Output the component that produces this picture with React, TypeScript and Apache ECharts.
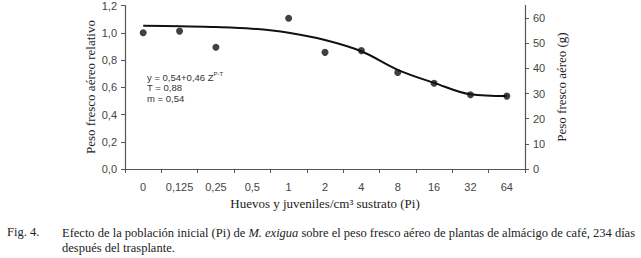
import React, { useEffect, useRef } from "react";
import * as echarts from "echarts";

const categories = ["0", "0,125", "0,25", "0,5", "1", "2", "4", "8", "16", "32", "64"];
const observed: (number | null)[] = [1.0, 1.012, 0.893, null, 1.107, 0.856, 0.869, 0.708, 0.63, 0.545, 0.535];
const fitted = [1.051, 1.047, 1.042, 1.03, 1.0, 0.947, 0.864, 0.728, 0.632, 0.548, 0.535];
const leftTicks = [0, 0.2, 0.4, 0.6, 0.8, 1.0, 1.2];
const rightTicks = [0, 10, 20, 30, 40, 50, 60];
const equationLines = ["y = 0,54+0,46 Z{s|P-T}", "T = 0,88", "m = 0,54"];
const xTitle = "Huevos y juveniles/cm³ sustrato (Pi)";
const leftTitle = "Peso fresco aéreo relativo";
const rightTitle = "Peso fresco aéreo (g)";

const SANS = "Liberation Sans";
const SERIF = "Liberation Serif";
const AXIS = "#555";
const LABEL = "#444";

export default function App() {
  const ref = useRef<HTMLDivElement>(null);
  useEffect(() => {
    document.body.style.margin = "0";
    const chart = echarts.init(ref.current!, null, { renderer: "svg" });
    const fmt = (v: number) => v.toFixed(1).replace(".", ",");
    const titleStyle = { font: "13px 'Liberation Serif', serif", fill: "#222", align: "center", verticalAlign: "middle" };
    chart.setOption({
      animation: false,
      backgroundColor: "#fff",
      grid: { left: 125, right: 116, top: 5, bottom: 89, containLabel: false },
      xAxis: {
        type: "category",
        data: categories,
        boundaryGap: true,
        axisLine: { lineStyle: { color: AXIS, width: 1.2 } },
        axisTick: { show: true, length: 4, lineStyle: { color: AXIS } },
        axisLabel: { fontFamily: SANS, fontSize: 11, color: LABEL, margin: 12 },
      },
      yAxis: [
        {
          type: "value",
          min: 0,
          max: 1.2,
          interval: 0.2,
          position: "left",
          axisLine: { show: true, lineStyle: { color: AXIS, width: 1.2 } },
          axisTick: { show: true, length: 4, lineStyle: { color: AXIS }, customValues: leftTicks },
          axisLabel: { fontFamily: SANS, fontSize: 11, color: LABEL, margin: 8, formatter: fmt, customValues: leftTicks },
          splitLine: { show: false },
        },
        {
          type: "value",
          min: 0,
          max: 65,
          position: "right",
          axisLine: { show: true, lineStyle: { color: AXIS, width: 1.2 } },
          axisTick: { show: true, length: 4, lineStyle: { color: AXIS }, customValues: rightTicks },
          axisLabel: { fontFamily: SANS, fontSize: 11, color: LABEL, margin: 8, customValues: rightTicks },
          splitLine: { show: false },
        },
      ],
      series: [
        {
          type: "line",
          data: fitted,
          smooth: 0.35,
          symbol: "none",
          lineStyle: { color: "#111", width: 2 },
          z: 2,
        },
        {
          type: "scatter",
          data: observed,
          symbol: "circle",
          symbolSize: 7,
          itemStyle: { color: "#111" },
          z: 3,
        },
      ],
      graphic: [
        { type: "text", x: 325, y: 203, style: { ...titleStyle, text: xTitle } },
        { type: "text", x: 90, y: 87, rotation: Math.PI / 2, style: { ...titleStyle, text: leftTitle } },
        { type: "text", x: 561, y: 87, rotation: Math.PI / 2, style: { ...titleStyle, text: rightTitle } },
        ...equationLines.map((t, i) => ({
          type: "text",
          left: 147,
          top: 71 + i * 11,
          style: {
            text: t,
            fontFamily: SANS,
            fontSize: 9.5,
            fill: "#333",
            rich: { s: { fontSize: 6, fontFamily: SANS, fill: "#333", verticalAlign: "top", padding: [0, 0, 6, 0] } },
          },
        })),
        {
          type: "text",
          left: 7,
          top: 225,
          style: { text: "Fig. 4.", fontFamily: SERIF, fontSize: 12.5, fill: "#222" },
        },
        {
          type: "text",
          left: 62,
          top: 225,
          style: {
            text: "Efecto de la población inicial (Pi) de {i|M. exigua} sobre el peso fresco aéreo de plantas de almácigo de café, 234 días\ndespués del trasplante.",
            fontFamily: SERIF,
            fontSize: 12.5,
            lineHeight: 15,
            fill: "#222",
            rich: { i: { fontStyle: "italic", fontFamily: SERIF, fontSize: 12.5, fill: "#222" } },
          },
        },
      ],
    });
    return () => chart.dispose();
  }, []);
  return <div ref={ref} style={{ width: 641, height: 258 }} />;
}
